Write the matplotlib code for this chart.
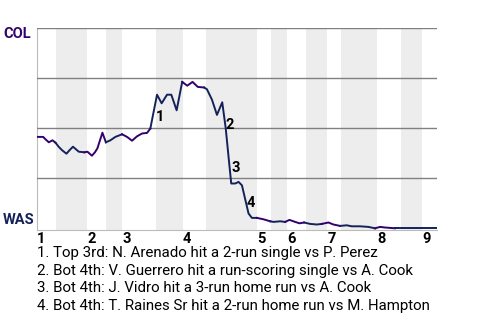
import numpy as np
import matplotlib
matplotlib.use("Agg")
import matplotlib.pyplot as plt

plt.rcParams['font.family'] = ['Roboto', 'DejaVu Sans']

# half-inning start positions (play index), last value = end of game
half_starts = [0, 4.2, 10.8, 14.8, 18.2, 25.4, 31.0, 36.0, 46.8, 49.8,
               53.2, 57.2, 61.7, 64.7, 72.3, 77.4, 81.8, 85.0]
inning_labels = ['1', '2', '3', '4', '5', '6', '7', '8', '9']

# Colorado win probability after each play
play_x = [0, 1.42, 1.91, 2.61, 3.39, 4.03, 4.73, 5.45, 6.36, 6.99, 7.74, 8.97,
          10.17, 10.81, 11.76, 12.4, 12.93, 13.99, 14.73, 15.68, 16.74, 18.16,
          19.22, 20.28, 21.34, 22.4, 23.46, 24.16, 25.58, 26.56, 27.7, 28.61,
          29.74, 30.92, 32.0, 33.11, 34.23, 35.57, 36.18, 37.24, 38.3, 39.42,
          40.16, 40.76, 41.33, 42.18, 42.88, 43.6, 45.0, 45.72, 46.78, 48.18,
          49.6, 50.3, 51.72, 52.78, 53.69, 54.9, 55.81, 56.8, 58.07, 59.5,
          60.56, 61.95, 63.01, 64.43, 65.85, 66.91, 68.67, 70.43, 71.85, 72.91,
          73.97, 76.09, 77.51, 85.0]
col_wp = [0.457, 0.457, 0.445, 0.43, 0.44, 0.428, 0.407, 0.39, 0.373, 0.39,
          0.408, 0.383, 0.38, 0.383, 0.363, 0.38, 0.40, 0.478, 0.43, 0.44,
          0.457, 0.47, 0.457, 0.438, 0.46, 0.474, 0.477, 0.499, 0.668, 0.625,
          0.668, 0.668, 0.59, 0.732, 0.713, 0.732, 0.707, 0.704, 0.695, 0.643,
          0.567, 0.63, 0.50, 0.357, 0.224, 0.224, 0.232, 0.215, 0.074, 0.052,
          0.052, 0.045, 0.035, 0.032, 0.035, 0.032, 0.042, 0.032, 0.025, 0.029,
          0.022, 0.019, 0.022, 0.029, 0.019, 0.012, 0.015, 0.01, 0.01, 0.007,
          0.0, 0.007, 0.004, 0.0, 0.0, 0.0]

events = ["1. Top 3rd: N. Arenado hit a 2-run single vs P. Perez",
          "2. Bot 4th: V. Guerrero hit a run-scoring single vs A. Cook",
          "3. Bot 4th: J. Vidro hit a 3-run home run vs A. Cook",
          "4. Bot 4th: T. Raines Sr hit a 2-run home run vs M. Hampton"]
event_x = [26.3, 41.1, 42.2, 45.4]
event_y = [0.557, 0.517, 0.302, 0.127]

col_color = '#33006F'
was_color = '#14225A'

fig = plt.figure(figsize=(4.8, 3.2), dpi=100)
ax = fig.add_axes([36.5 / 480, 1 - 230.3 / 320, 400.5 / 480, 202 / 320])

# shade bottom halves
for k in range(1, len(half_starts) - 1, 2):
    ax.axvspan(half_starts[k], half_starts[k + 1], color='#ededed', lw=0, zorder=0)

# line colored by batting team
x = np.array(play_x)
y = np.array(col_wp)
half_idx = np.searchsorted(half_starts, x, side='right') - 1
seg_half = half_idx[1:]
start = 0
for i in range(1, len(seg_half) + 1):
    if i == len(seg_half) or seg_half[i] % 2 != seg_half[start] % 2:
        c = col_color if seg_half[start] % 2 == 0 else was_color
        ax.plot(x[start:i + 1], y[start:i + 1], color=c, lw=1.4,
                solid_joinstyle='round', zorder=3)
        start = i

for k in range(len(event_x)):
    ax.text(event_x[k], event_y[k], str(k + 1), fontsize=10.5, fontweight='bold',
            ha='center', va='center', zorder=4)

ax.set_xlim(0, 85)
ax.set_ylim(-0.01, 1.0)
ax.set_yticks([0.25, 0.5, 0.75, 1.0])
ax.set_yticklabels([])
ax.tick_params(axis='y', length=0)
ax.grid(axis='y', color='#808080', lw=1.0, zorder=1)
ax.set_axisbelow(False)
ax.set_xticks(half_starts[0:-1:2])
ax.set_xticklabels(inning_labels, fontsize=10.5, fontweight='bold', ha='left')
ax.tick_params(axis='x', length=0, pad=1)
for side in ['top', 'right']:
    ax.spines[side].set_visible(False)
ax.spines['left'].set_color('#bbbbbb')
ax.spines['bottom'].set_color('#bbbbbb')

fig.text(3 / 480, 1 - 34.5 / 320, 'COL', color=col_color, fontsize=10.5,
         fontweight='bold', va='center', ha='left')
fig.text(3 / 480, 1 - 219.5 / 320, 'WAS', color=was_color, fontsize=10.5,
         fontweight='bold', va='center', ha='left')

for i, e in enumerate(events):
    fig.text(37 / 480, 1 - (253 + 17.7 * i) / 320, e, fontsize=10.8,
             va='center', ha='left')

fig.savefig('out.png', dpi=100)
